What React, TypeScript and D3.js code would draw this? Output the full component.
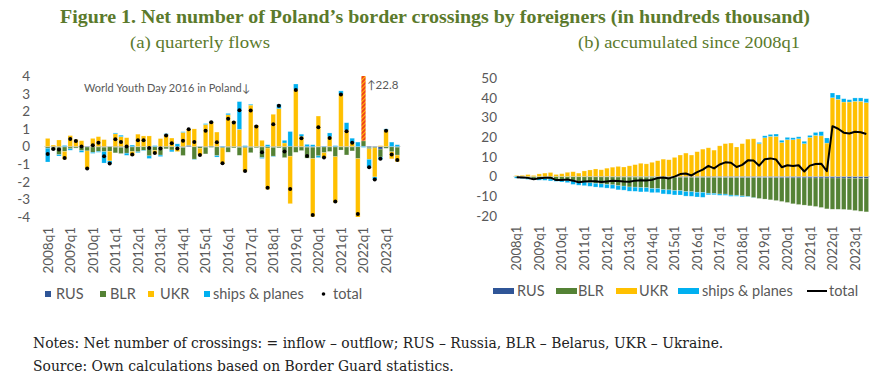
import React from 'react';
import * as d3 from 'd3';

const quarters: string[] = [];
for (let y = 2008; y <= 2023; y++) for (let q = 1; q <= 4; q++) if (!(y === 2023 && q === 4)) quarters.push(`${y}q${q}`);

// (a) quarterly flows
const rusQ = [-0.03,-0.05,-0.04,-0.03,-0.03,-0.03,-0.03,-0.03,-0.03,-0.03, -0.04,-0.02,-0.04,-0.05,-0.03,-0.03,-0.02,-0.02,-0.03,-0.02, -0.04,-0.03,-0.02,-0.02,-0.06,0.05,-0.02,-0.02,-0.04,0.03, -0.02,-0.03,-0.04,-0.03,-0.05,-0.03,-0.05,-0.02,-0.03,-0.02, -0.05,-0.03,-0.03,0.02,-0.03,-0.03,-0.04,-0.04,-0.03,-0.03, -0.03,-0.03,-0.03,-0.03,-0.03,-0.02,0.02,-0.05,-0.03,-0.15,-0.02,-0.02,-0.04];
const blrQ = [-0.07,-0.15,-0.42,-0.25,-0.1,-0.06,-0.2,-0.22,-0.3,-0.25, -0.25,-0.25,-0.32,-0.35,-0.35,-0.25,-0.28,-0.2,-0.5,-0.2, -0.45,-0.1,-0.18,-0.02,-0.45,0.03,-0.7,-0.08,-0.38,-0.05, -0.5,-0.05,-0.28,-0.05,-0.45,-0.05,-0.3,-0.05,-0.6,-0.07, -0.5,-0.05,-0.6,-0.55,-0.3,-0.2,-0.62,-0.65,-0.5,-0.32, -0.25,-0.55,-0.17,-0.45,-0.22,-0.67,0.3,-0.08,-0.05,-0.45,-0.08,-0.28,-0.45];
const ukrQ = [0.46,0.08,0.37,-0.45,0.62,0.4,0.33,-1.0,0.46,0.56, 0.39,-0.55,0.72,0.56,0.5,-0.25,0.7,0.6,0.6,-0.2, 0.45,0.68,0.48,-0.25,0.8,0.92,1.0,-0.4,1.25,1.38, 0.82,-0.9,1.8,1.45,0.98,-1.35,2.35,1.22,0.35,-2.35, 1.83,2.15,0.2,-2.7,3.25,0.58,0.0,-3.3,1.73,-0.3, 0.55,-2.6,2.98,0.93,0.2,-3.4,22.8,-0.6,-1.65,0.05,0.95,-0.4,-0.38];
const shipsQ = [-0.78,0.0,-0.08,0.06,-0.08,0.0,-0.1,0.0,-0.06,-0.05, -0.65,-0.15,0.05,0.08,-0.12,0.08,-0.05,-0.03,-0.15,0.05, -0.08,0.05,-0.1,0.15,0.04,0.0,-0.02,0.0,0.05,0.03, -0.08,0.02,0.08,0.0,1.57,0.05,0.05,0.0,-0.05,0.1, -0.03,0.25,0.15,0.83,0.3,0.12,0.12,0.1,-0.1,0.02, 0.22,0.05,0.18,0.42,0.27,0.25,-0.05,-0.45,-0.15,-0.15,0.05,0.25,0.1];
const totalQ = [-0.42,-0.14,-0.17,-0.65,0.43,0.31,0.0,-1.25,0.07,0.22, -0.55,-0.96,0.41,0.25,0.0,-0.45,0.35,0.35,-0.08,-0.37, -0.12,0.63,0.18,-0.12,0.33,0.98,0.26,-0.48,0.89,1.38, 0.24,-0.95,1.57,1.37,2.06,-1.39,2.05,1.14,-0.33,-2.34, 1.26,2.32,-0.28,-2.41,3.21,0.47,-0.54,-3.89,1.1,-0.63, 0.49,-3.13,2.96,0.87,0.22,-3.84,23.07,-1.18,-1.88,-0.7,0.9,-0.45,-0.77];

// (b) accumulated since 2008q1
const rusC = [-0.03,-0.05,-0.07,-0.09,-0.1,-0.12,-0.13,-0.15,-0.16,-0.18, -0.2,-0.21,-0.23,-0.25,-0.26,-0.28,-0.29,-0.3,-0.32,-0.33, -0.35,-0.36,-0.37,-0.38,-0.4,-0.38,-0.39,-0.4,-0.42,-0.41, -0.42,-0.44,-0.46,-0.47,-0.5,-0.51,-0.54,-0.55,-0.57,-0.58, -0.6,-0.62,-0.63,-0.62,-0.64,-0.65,-0.67,-0.69,-0.7,-0.72, -0.74,-0.75,-0.77,-0.78,-0.8,-0.81,-0.8,-0.82,-0.84,-0.9,-0.91,-0.92,-0.94];
const blrC = [-0.07,-0.2,-0.55,-0.8,-0.9,-0.95,-1.15,-1.35,-1.6,-1.85, -2.1,-2.35,-2.6,-2.95,-3.25,-3.5,-3.75,-3.95,-4.4,-4.6, -5.0,-5.1,-5.3,-5.35,-5.75,-5.75,-6.35,-6.45,-6.8,-6.85, -7.3,-7.35,-7.6,-7.65,-8.05,-8.1,-8.4,-8.45,-8.95,-9.0, -9.3,-9.6,-10.2,-10.6,-10.9,-11.25,-11.6,-12.05,-12.55,-13.2, -13.55,-13.85,-14.2,-14.5,-15.0,-15.7,-15.9,-15.9,-15.95,-16.1,-16.45,-16.8,-17.1];
const ukrC = [0.46,0.55,0.95,0.5,1.3,1.7,2.0,1.0,1.4,2.1, 2.4,1.7,2.8,3.3,3.8,3.4,4.2,4.7,5.1,4.8, 5.4,6.0,6.7,6.4,7.2,8.0,8.8,8.5,9.7,10.9, 11.9,10.9,12.6,13.9,14.6,13.4,15.6,16.7,17.0,15.0, 16.7,19.0,19.2,16.7,19.7,20.4,20.4,17.3,18.7,18.7, 19.2,16.7,19.9,20.9,20.7,17.0,40.1,39.3,37.9,37.9,38.3,38.3,37.6];
const shipsC = [-0.8,-0.8,-0.85,-0.8,-0.9,-0.9,-1.0,-1.0,-1.05,-1.1, -1.75,-1.9,-1.85,-1.8,-1.9,-1.85,-1.9,-1.95,-2.1,-2.05, -2.15,-2.1,-2.2,-2.1,-2.1,-2.1,-2.15,-2.2,-2.2,-2.2, -2.3,-2.3,-2.4,-2.5,-0.8,-0.7,-0.65,-0.6,-0.6,-0.5, -0.5,-0.25,-0.1,0.6,1.0,1.0,1.2,1.1,1.2,1.0, 1.0,1.2,1.0,1.5,2.1,2.6,2.4,2.2,1.7,1.2,1.7,1.7,2.0];
const totalC = [-0.42,-0.56,-0.73,-1.38,-0.95,-0.64,-0.64,-1.85,-1.8,-1.6, -2.15,-3.0,-2.6,-2.45,-2.45,-2.85,-2.55,-2.2,-2.28,-2.6, -2.75,-2.14,-1.96,-2.08,-1.75,-0.8,-0.55,-1.0,-0.1,1.2, 1.5,0.5,2.2,3.5,5.4,4.1,6.1,7.2,7.0,4.8, 5.9,8.2,8.1,5.5,8.8,9.2,8.6,4.7,5.7,5.3, 5.7,2.5,5.5,6.3,6.5,2.7,25.6,24.3,22.3,21.9,22.8,22.5,21.6];

const leftTicks = [-4, -3, -2, -1, 0, 1, 2, 3, 4];
const rightTicks = [-20, -10, 0, 10, 20, 30, 40, 50];
const keys = ['RUS', 'BLR', 'UKR', 'SHIPS'];
const legendNames = ['RUS', 'BLR', 'UKR', 'ships & planes'];
const colors: Record<string, string> = { RUS: '#2f5597', BLR: '#548235', UKR: '#ffc000', SHIPS: '#00b0f0' };

const AX = '#595959';
const FONT = 'Lato, "Open Sans", sans-serif';
const GREEN = '#5b7a2c';

function buildRows(r: number[], b: number[], u: number[], s: number[]) {
  return quarters.map((q, i) => ({ q, RUS: r[i], BLR: b[i], UKR: u[i], SHIPS: s[i] }));
}

const stacker = d3.stack<any>().keys(keys).offset(d3.stackOffsetDiverging);

function Panel(props: {
  rows: any[]; totals: number[]; x0: number; x1: number; yDomain: [number, number]; yRange: [number, number];
  ticks: number[]; labelX: number; isLine: boolean; id: string; xLabelFont: number;
}) {
  const { rows, totals, x0, x1, yDomain, yRange, ticks, labelX, isLine, id, xLabelFont } = props;
  const x = d3.scaleBand<string>().domain(quarters).range([x0, x1]).paddingInner(0.2).paddingOuter(0.2);
  const y = d3.scaleLinear().domain(yDomain).range(yRange);
  const series = stacker(rows);
  const bw = x.bandwidth();
  const cx = (q: string) => (x(q) as number) + bw / 2;
  const line = d3.line<number>().x((_, i) => cx(quarters[i])).y((d) => y(d));
  const top = Math.min(...yRange), bot = Math.max(...yRange);
  return (
    <g>
      <clipPath id={`clip-${id}`}><rect x={x0 - 2} y={top} width={x1 - x0 + 4} height={bot - top} /></clipPath>
      {ticks.map((t) => (
        <text key={t} x={labelX} y={y(t)} dy="0.36em" textAnchor="end" fontSize={13.5} fill={AX} fontFamily={FONT}>{t}</text>
      ))}
      <line x1={x0} x2={x1} y1={y(0)} y2={y(0)} stroke="#d9d9d9" strokeWidth={1} />
      <g clipPath={`url(#clip-${id})`}>
        {series.map((s) => (
          <g key={s.key}>
            {s.map((d, i) => {
              const q = quarters[i];
              const hatched = !isLine && s.key === 'UKR' && q === '2022q1';
              const ya = y(d[0]), yb = y(d[1]);
              const h = Math.abs(ya - yb);
              if (h < 0.01) return null;
              return (
                <rect key={q} x={x(q)} y={Math.min(ya, yb)} width={bw} height={h}
                  fill={hatched ? 'url(#hatch)' : colors[s.key]} stroke="#ffffff" strokeOpacity={0.35} strokeWidth={0.6} />
              );
            })}
          </g>
        ))}
        {isLine ? (
          <path d={line(totals) || ''} fill="none" stroke="#000" strokeWidth={2} strokeLinejoin="round" />
        ) : (
          totals.map((t, i) => <circle key={i} cx={cx(quarters[i])} cy={y(t)} r={2} fill="#000" />)
        )}
      </g>
      {quarters.map((q) => q.endsWith('q1') ? (
        <text key={q} transform={`translate(${cx(q)},${bot + 10}) rotate(-90)`} textAnchor="end" dy="0.36em"
          fontSize={xLabelFont} fill={AX} fontFamily={FONT}>{q}</text>
      ) : null)}
    </g>
  );
}

export default function App() {
  const leftRows = buildRows(rusQ, blrQ, ukrQ, shipsQ);
  const rightRows = buildRows(rusC, blrC, ukrC, shipsC);
  const leftSq = [45, 100, 148, 204];
  const leftTx = [56, 110, 160, 213];
  const rightSw = [493, 556, 616, 678];
  const rightTx = [517, 578, 639, 702];
  return (
    <svg width={870} height={378} style={{ position: 'absolute', left: 0, top: 0, background: '#fff' }}>
      <defs>
        <pattern id="hatch" patternUnits="userSpaceOnUse" width={3} height={3} patternTransform="rotate(45)">
          <rect width={3} height={3} fill="#f0421c" />
          <rect width={1} height={3} fill="#ffc000" />
        </pattern>
      </defs>
      <rect width={870} height={378} fill="#fff" />
      <text x={435} y={23} textAnchor="middle" fontFamily='"Liberation Serif", serif' fontWeight="bold" fontSize={19}
        fill={GREEN} textLength={750} lengthAdjust="spacingAndGlyphs">Figure 1. Net number of Poland’s border crossings by foreigners (in hundreds thousand)</text>
      <text x={200} y={48} textAnchor="middle" fontFamily='"Liberation Serif", serif' fontSize={17} fill={GREEN}
        textLength={140} lengthAdjust="spacingAndGlyphs">(a) quarterly flows</text>
      <text x={689} y={48} textAnchor="middle" fontFamily='"Liberation Serif", serif' fontSize={17} fill={GREEN}
        textLength={222} lengthAdjust="spacingAndGlyphs">(b) accumulated since 2008q1</text>

      <Panel id="a" rows={leftRows} totals={totalQ} x0={44.3} x1={400.7} yDomain={[-4, 4]} yRange={[216.9, 76.1]}
        ticks={leftTicks} labelX={30} isLine={false} xLabelFont={13.5} />
      <Panel id="b" rows={rightRows} totals={totalC} x0={513.3} x1={869.7} yDomain={[-20, 50]} yRange={[215.7, 78.3]}
        ticks={rightTicks} labelX={497} isLine={true} xLabelFont={13} />

      <text x={84} y={92} fontSize={11} fill={AX} fontFamily={FONT}>World Youth Day 2016 in Poland↓</text>
      <text x={367} y={89} fontSize={11.5} fill={AX} fontFamily={FONT}>↑22.8</text>

      {keys.map((k, i) => (
        <g key={k}>
          <rect x={leftSq[i]} y={291} width={6} height={6} fill={colors[k]} />
          <text x={leftTx[i]} y={294} dy="0.36em" fontSize={14.5} fill={AX} fontFamily={FONT}>{legendNames[i]}</text>
          <rect x={rightSw[i]} y={288} width={21} height={6} fill={colors[k]} />
          <text x={rightTx[i]} y={291} dy="0.36em" fontSize={14.5} fill={AX} fontFamily={FONT}>{legendNames[i]}</text>
        </g>
      ))}
      <circle cx={323.5} cy={294} r={1.8} fill="#000" />
      <text x={333} y={294} dy="0.36em" fontSize={14.5} fill={AX} fontFamily={FONT}>total</text>
      <line x1={807} x2={827} y1={291} y2={291} stroke="#000" strokeWidth={2} />
      <text x={829} y={291} dy="0.36em" fontSize={14.5} fill={AX} fontFamily={FONT}>total</text>

      <text x={33} y={348} fontSize={13.9} fill="#222" fontFamily='"DejaVu Serif", serif'>Notes: Net number of crossings: = inflow – outflow; RUS – Russia, BLR – Belarus, UKR – Ukraine.</text>
      <text x={33} y={371} fontSize={13.9} fill="#222" fontFamily='"DejaVu Serif", serif'>Source: Own calculations based on Border Guard statistics.</text>
    </svg>
  );
}
